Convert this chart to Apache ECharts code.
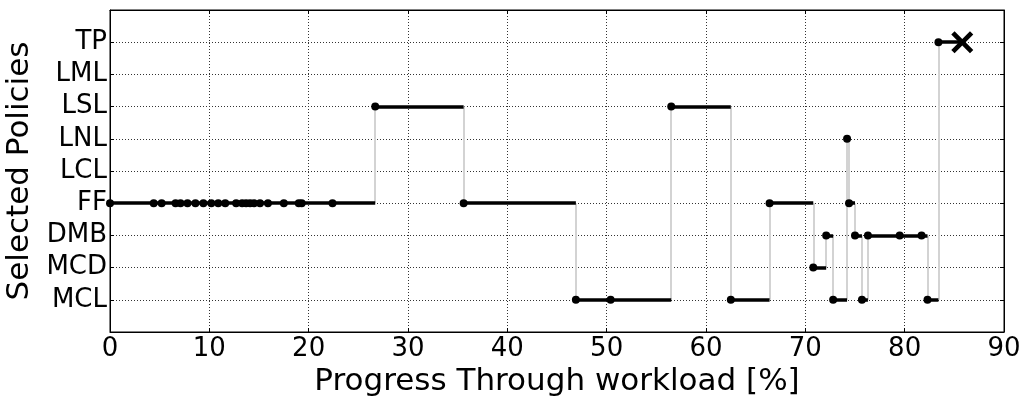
<!DOCTYPE html>
<html>
<head>
<meta charset="utf-8">
<script src="https://cdn.jsdelivr.net/npm/echarts@6/dist/echarts.min.js"></script>
<style>
	html, body { margin: 0; padding: 0; background: #fff; }
	#chart { width: 1027px; height: 399px; }
</style>
</head>
<body>
<div id="chart"></div>
<script>
// policies, bottom to top
var policies = ['MCL', 'MCD', 'DMB', 'FF', 'LCL', 'LNL', 'LSL', 'LML', 'TP'];

// each decision point: progress [%] and chosen policy
var decisionX = [
	0, 4.4, 5.2, 6.6, 7.1, 7.8, 8.6, 9.4, 10.2, 10.9, 11.6, 12.7, 13.3, 13.7, 14.1, 14.5, 15.1, 15.9, 17.5, 19.0, 19.3, 22.4,
	26.7, 35.6, 46.9, 50.4, 56.5, 62.5, 66.4, 70.8, 72.1, 72.8, 74.2, 74.4, 75.0, 75.7, 76.3, 79.5, 81.7, 82.3, 83.4
];
var decisionPolicy = [
	'FF', 'FF', 'FF', 'FF', 'FF', 'FF', 'FF', 'FF', 'FF', 'FF', 'FF', 'FF', 'FF', 'FF', 'FF', 'FF', 'FF', 'FF', 'FF', 'FF', 'FF', 'FF',
	'LSL', 'FF', 'MCL', 'MCL', 'LSL', 'MCL', 'FF', 'MCD', 'DMB', 'MCL', 'LNL', 'FF', 'DMB', 'MCL', 'DMB', 'DMB', 'DMB', 'MCL', 'TP'
];
// where the run ends (cross marker)
var endX = 85.8;
var endPolicy = 'TP';

var fontName = 'DejaVu Sans';

var horiz = [], vert = [], dots = [];
for (var i = 0; i < decisionX.length; i++) {
	var p = policies.indexOf(decisionPolicy[i]);
	var nextX = i + 1 < decisionX.length ? decisionX[i + 1] : endX;
	horiz.push({ coords: [[decisionX[i], p], [nextX, p]] });
	dots.push([decisionX[i], p]);
	if (i > 0 && decisionPolicy[i] !== decisionPolicy[i - 1]) {
		var q = policies.indexOf(decisionPolicy[i - 1]);
		vert.push({ coords: [[decisionX[i], q], [decisionX[i], p]] });
	}
}

var gridLine = {
	show: true,
	lineStyle: { color: '#333', width: 1, type: [1, 2] }
};

var frameAxis = { show: true, onZero: false, lineStyle: { color: '#000', width: 1 } };
var frameTick = { show: true, inside: true, length: 4, lineStyle: { color: '#000' } };

var chart = echarts.init(document.getElementById('chart'));
chart.setOption({
	animation: false,
	grid: {
		left: 110, right: 23, top: 10, bottom: 67,
		outerBoundsMode: 'none',
		show: true, borderColor: '#000', borderWidth: 1
	},
	xAxis: [{
		type: 'value',
		min: 0,
		max: 90,
		interval: 10,
		position: 'bottom',
		name: 'Progress Through workload [%]',
		nameLocation: 'middle',
		nameGap: 34,
		nameTextStyle: { fontSize: 31, fontFamily: fontName, color: '#000' },
		axisLine: frameAxis,
		axisTick: frameTick,
		axisLabel: { fontSize: 26, fontFamily: fontName, color: '#000', margin: 4 },
		splitLine: gridLine
	}, {
		type: 'value',
		min: 0,
		max: 90,
		interval: 10,
		position: 'top',
		axisLine: frameAxis,
		axisTick: frameTick,
		axisLabel: { show: false },
		splitLine: { show: false }
	}],
	yAxis: [{
		type: 'value',
		min: -1,
		max: 9,
		interval: 1,
		position: 'left',
		name: 'Selected Policies',
		nameLocation: 'middle',
		nameGap: 62,
		nameTextStyle: { fontSize: 31, fontFamily: fontName, color: '#000' },
		axisLine: frameAxis,
		axisTick: frameTick,
		axisLabel: {
			fontSize: 26,
			fontFamily: fontName,
			color: '#000',
			margin: 3,
			formatter: function(v) {
				return policies[v] || '';
			}
		},
		splitLine: gridLine
	}, {
		type: 'value',
		min: -1,
		max: 9,
		interval: 1,
		position: 'right',
		axisLine: frameAxis,
		axisTick: frameTick,
		axisLabel: { show: false },
		splitLine: { show: false }
	}],
	series: [{
		name: 'switch',
		type: 'lines',
		coordinateSystem: 'cartesian2d',
		z: 2,
		lineStyle: { color: '#d3d3d3', width: 2, opacity: 1, curveness: 0 },
		data: vert
	}, {
		name: 'policy',
		type: 'lines',
		coordinateSystem: 'cartesian2d',
		z: 3,
		lineStyle: { color: '#000', width: 3.5, opacity: 1, curveness: 0 },
		data: horiz
	}, {
		name: 'decision',
		type: 'scatter',
		z: 4,
		symbol: 'circle',
		symbolSize: 8,
		itemStyle: { color: '#000', opacity: 1 },
		data: dots
	}, {
		name: 'end',
		type: 'scatter',
		z: 5,
		symbol: 'path://M0,3L3,0L10,7L17,0L20,3L13,10L20,17L17,20L10,13L3,20L0,17L7,10Z',
		symbolSize: [22, 22],
		itemStyle: { color: '#000', opacity: 1 },
		data: [[endX, policies.indexOf(endPolicy)]]
	}]
});
</script>
</body>
</html>
